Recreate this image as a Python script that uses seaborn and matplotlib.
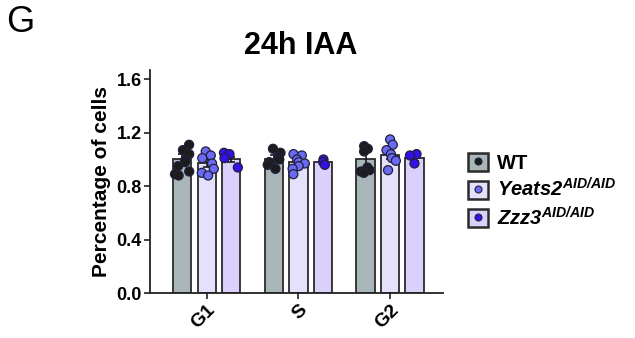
import numpy as np
import pandas as pd
import matplotlib
matplotlib.use("Agg")
import matplotlib.pyplot as plt
import seaborn as sns
from matplotlib.patches import Patch
from matplotlib.lines import Line2D
from matplotlib.legend_handler import HandlerTuple

# ---------------- data ----------------
phases = ["G1", "S", "G2"]
genotypes = ["WT", "Yeats2", "Zzz3"]

bar_wt = [1.00, 1.00, 1.00]
bar_yeats2 = [0.977, 0.98, 1.03]
bar_zzz3 = [1.00, 0.98, 1.01]

err_wt = [0.04, 0.03, 0.07]
err_yeats2 = [0.03, 0.02, 0.03]
err_zzz3 = [0.02, 0.01, 0.02]

pts_wt_g1 = [1.11, 1.07, 1.04, 1.00, 0.98, 0.95, 0.91, 0.89, 0.88]
pts_yeats2_g1 = [1.06, 1.03, 1.01, 0.97, 0.93, 0.90, 0.88]
pts_zzz3_g1 = [1.05, 1.04, 1.01, 0.94]
pts_wt_s = [1.08, 1.05, 1.02, 1.00, 0.98, 0.96, 0.93]
pts_yeats2_s = [1.04, 1.03, 1.00, 0.98, 0.97, 0.95, 0.93, 0.89]
pts_zzz3_s = [1.00, 0.98, 0.96]
pts_wt_g2 = [1.10, 1.08, 1.06, 0.94, 0.92, 0.91, 0.90]
pts_yeats2_g2 = [1.15, 1.11, 1.07, 1.04, 1.01, 0.99, 0.92]
pts_zzz3_g2 = [1.04, 1.03, 0.97]

yticks = [0.0, 0.4, 0.8, 1.2, 1.6]

# ---------------- styling ----------------
bar_colors = {"WT": "#a8b6ba", "Yeats2": "#e3e1fb", "Zzz3": "#dad0fb"}
pt_colors = {"WT": "#1c1c1c", "Yeats2": "#6a6af4", "Zzz3": "#3410ea"}

sns.set_style("white")
plt.rcParams["font.family"] = ["Liberation Sans", "DejaVu Sans"]
plt.rcParams["font.weight"] = "bold"
plt.rcParams["text.color"] = "black"
plt.rcParams["axes.labelcolor"] = "black"
plt.rcParams["xtick.color"] = "black"
plt.rcParams["ytick.color"] = "black"
plt.rcParams["mathtext.fontset"] = "custom"
plt.rcParams["mathtext.it"] = "Liberation Sans:italic:bold"
plt.rcParams["mathtext.rm"] = "Liberation Sans:italic:bold"
plt.rcParams["mathtext.bf"] = "Liberation Sans:bold"

bars = pd.DataFrame({
    "phase": phases * 3,
    "genotype": [g for g in genotypes for _ in phases],
    "value": bar_wt + bar_yeats2 + bar_zzz3,
    "err": err_wt + err_yeats2 + err_zzz3,
})

pts_map = {
    ("G1", "WT"): pts_wt_g1, ("G1", "Yeats2"): pts_yeats2_g1, ("G1", "Zzz3"): pts_zzz3_g1,
    ("S", "WT"): pts_wt_s, ("S", "Yeats2"): pts_yeats2_s, ("S", "Zzz3"): pts_zzz3_s,
    ("G2", "WT"): pts_wt_g2, ("G2", "Yeats2"): pts_yeats2_g2, ("G2", "Zzz3"): pts_zzz3_g2,
}
rows = []
for (ph, g), vals in pts_map.items():
    for v in vals:
        rows.append({"phase": ph, "genotype": g, "value": v})
points = pd.DataFrame(rows)

fig = plt.figure(figsize=(6.35, 3.38), dpi=100)
ax = fig.add_axes([0.236, 0.133, 0.462, 0.66])

sns.barplot(data=bars, x="phase", y="value", hue="genotype", order=phases,
            hue_order=genotypes, palette=bar_colors, width=0.8, gap=0.25,
            errorbar=None, edgecolor="#2a2a2a", linewidth=1.3, saturation=1,
            legend=False, ax=ax)

# error bars at bar centers
for gi, g in enumerate(genotypes):
    for pi, ph in enumerate(phases):
        row = bars[(bars.phase == ph) & (bars.genotype == g)].iloc[0]
        patch = ax.patches[gi * len(phases) + pi]
        cx = patch.get_x() + patch.get_width() / 2
        ax.errorbar(cx, row.value, yerr=row.err, color="#1a1a1a", capsize=3,
                    elinewidth=1.2, capthick=1.2, zorder=3)

np.random.seed(4)
n_before = len(ax.collections)
sns.stripplot(data=points, x="phase", y="value", hue="genotype", order=phases,
              hue_order=genotypes, palette=pt_colors, dodge=True, jitter=0.24,
              size=6.5, edgecolor="#20203a", linewidth=0.9, legend=False,
              ax=ax, zorder=4)

# align dodged points with the bar centers
bar_centers = [p.get_x() + p.get_width() / 2 for p in ax.patches]
off = bar_centers[len(phases)] - bar_centers[0]  # offset between hue slots
factor = off / (0.8 / 3)
for coll in ax.collections[n_before:]:
    o = coll.get_offsets()
    if len(o) == 0:
        continue
    base = np.round(o[:, 0])
    o[:, 0] = base + (o[:, 0] - base) * factor
    coll.set_offsets(o)

ax.set_xlim(-0.62, 2.58)
ax.set_ylim(0, 1.67)
ax.set_yticks(yticks)
ax.set_yticklabels([f"{t:.1f}" for t in yticks], fontsize=13, fontweight="bold")
ax.set_xticks(range(len(phases)))
ax.set_xticklabels(phases, fontsize=14, fontweight="bold", rotation=45,
                   ha="right", va="top", rotation_mode="anchor")
ax.set_xlabel("")
ax.set_ylabel("Percentage of cells", fontsize=15, fontweight="bold", labelpad=4)
ax.tick_params(axis="both", direction="out", length=4, width=1.2, color="#222222",
               bottom=True, left=True, pad=2)
for s in ["top", "right"]:
    ax.spines[s].set_visible(False)
for s in ["left", "bottom"]:
    ax.spines[s].set_color("#222222")
    ax.spines[s].set_linewidth(1.3)

fig.text(0.474, 0.82, "24h IAA", ha="center", va="bottom", fontsize=22,
         fontweight="bold")
fig.text(0.01, 0.985, "G", ha="left", va="top", fontsize=26, fontweight="normal")

labels = ["WT", r"$\mathit{Yeats2}^{\mathit{AID/AID}}$", r"$\mathit{Zzz3}^{\mathit{AID/AID}}$"]
handles = []
for g in genotypes:
    handles.append((Patch(facecolor=bar_colors[g], edgecolor="#2a2a2a", linewidth=1.8),
                    Line2D([], [], marker="o", linestyle="", markersize=5,
                           markerfacecolor=pt_colors[g], markeredgecolor="#20203a",
                           markeredgewidth=0.8)))
leg = fig.legend(handles, labels, handler_map={tuple: HandlerTuple(ndivide=1)},
                 loc="center left", bbox_to_anchor=(0.708, 0.435), frameon=False,
                 prop={"size": 14.5, "weight": "bold"}, handlelength=1.0,
                 handleheight=1.0, handletextpad=0.45, labelspacing=0.25)

fig.savefig("out.png", dpi=100)
